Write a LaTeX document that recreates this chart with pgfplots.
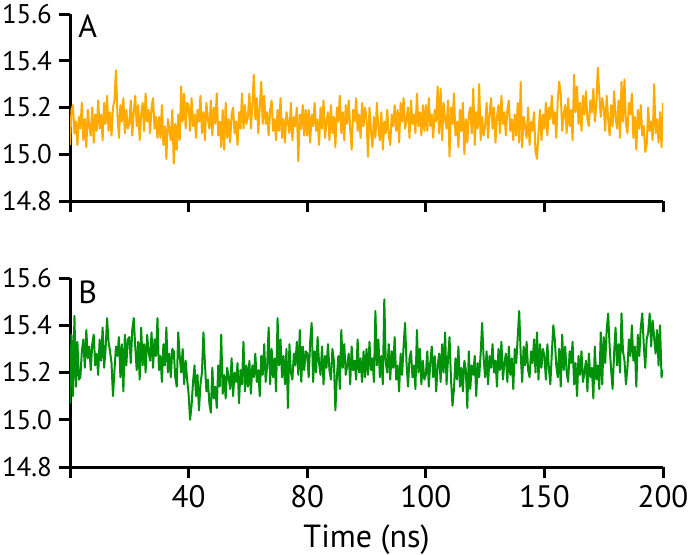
\documentclass[border=0pt]{standalone}
\usepackage{fontspec}
\setmainfont{PT Sans}
\usepackage{pgfplots}
\pgfplotsset{compat=1.18}
\usepackage{pgfplotstable}
\definecolor{mdorange}{RGB}{255,170,0}
\definecolor{mdgreen}{RGB}{0,145,10}

% sampled every 0.5 ns, 0..200 ns
\pgfplotstableread[row sep=\\]{
y\\
15.04\\15.19\\15.21\\15.09\\15.14\\15.04\\15.16\\15.11\\15.22\\15.06\\15.15\\15.03\\15.19\\15.12\\15.08\\15.20\\15.05\\15.17\\15.10\\15.23\\
15.11\\15.17\\15.06\\15.22\\15.13\\15.25\\15.10\\15.18\\15.08\\15.20\\15.23\\15.36\\15.17\\15.07\\15.21\\15.14\\15.24\\15.09\\15.19\\15.11\\
15.13\\15.23\\15.08\\15.18\\15.25\\15.12\\15.21\\15.06\\15.17\\15.22\\15.10\\15.26\\15.14\\15.19\\15.09\\15.20\\15.24\\15.11\\15.16\\15.07\\
15.16\\15.07\\15.21\\15.04\\15.12\\14.98\\15.15\\15.11\\15.06\\15.19\\14.96\\15.13\\15.02\\15.17\\15.06\\15.29\\15.14\\15.26\\15.11\\15.22\\
15.21\\15.10\\15.24\\15.12\\15.17\\15.07\\15.19\\15.14\\15.25\\15.09\\15.18\\15.06\\15.22\\15.15\\15.11\\15.23\\15.08\\15.20\\15.13\\15.26\\
15.08\\15.14\\15.03\\15.19\\15.02\\15.22\\15.07\\15.15\\15.05\\15.17\\15.20\\15.09\\15.14\\15.04\\15.18\\15.11\\15.26\\15.11\\15.21\\15.13\\
15.16\\15.26\\15.11\\15.21\\15.34\\15.15\\15.24\\15.09\\15.20\\15.31\\15.13\\15.25\\15.13\\15.18\\15.08\\15.19\\15.23\\15.10\\15.15\\15.06\\
15.19\\15.10\\15.24\\15.07\\15.15\\15.05\\15.18\\15.14\\15.09\\15.22\\15.06\\15.16\\15.12\\15.20\\14.97\\15.17\\15.11\\15.21\\15.08\\15.19\\
15.08\\15.19\\15.05\\15.17\\15.12\\15.22\\15.10\\15.15\\15.04\\15.20\\15.11\\15.23\\15.07\\15.14\\15.18\\15.06\\15.21\\15.09\\15.16\\15.03\\
15.20\\15.14\\15.25\\15.09\\15.18\\15.06\\15.21\\15.13\\15.23\\15.11\\15.02\\15.19\\15.14\\15.24\\15.10\\15.17\\15.07\\15.22\\15.12\\15.20\\
15.15\\14.99\\15.20\\15.10\\15.03\\15.16\\15.07\\15.22\\15.11\\15.06\\15.18\\15.02\\15.14\\15.09\\15.19\\15.08\\15.04\\15.17\\15.12\\15.21\\
15.10\\15.19\\15.05\\15.22\\15.14\\15.24\\15.11\\15.15\\15.20\\15.07\\15.23\\15.13\\15.17\\15.09\\15.26\\15.12\\15.18\\15.08\\15.21\\15.10\\
15.21\\15.10\\15.24\\15.12\\15.17\\15.07\\15.19\\15.14\\15.29\\15.09\\15.28\\15.06\\15.22\\15.15\\15.11\\15.23\\14.99\\15.20\\15.13\\15.26\\
15.08\\15.14\\15.03\\15.19\\15.10\\15.22\\15.00\\15.15\\15.05\\15.17\\15.20\\15.09\\15.28\\15.04\\15.18\\15.11\\15.30\\15.06\\15.16\\15.08\\
15.12\\15.22\\15.07\\15.17\\15.24\\15.11\\15.20\\15.05\\15.16\\15.21\\15.09\\15.25\\15.13\\15.18\\15.08\\15.19\\15.23\\15.10\\15.15\\15.06\\
15.17\\15.08\\15.22\\15.05\\15.31\\15.03\\15.16\\15.12\\15.07\\15.20\\15.04\\15.14\\15.10\\15.18\\15.01\\14.98\\15.09\\15.19\\15.06\\15.17\\
15.11\\15.22\\15.08\\15.20\\15.15\\15.25\\15.13\\15.18\\15.07\\15.23\\15.31\\15.26\\15.10\\15.17\\15.21\\15.09\\15.24\\15.12\\15.19\\15.06\\
15.34\\15.18\\15.29\\15.13\\15.22\\15.10\\15.25\\15.17\\15.27\\15.15\\15.12\\15.23\\15.18\\15.28\\15.14\\15.21\\15.37\\15.26\\15.16\\15.24\\
15.20\\15.10\\15.25\\15.15\\15.08\\15.21\\15.12\\15.27\\15.16\\15.11\\15.23\\15.07\\15.31\\15.14\\15.32\\15.13\\15.09\\15.22\\15.17\\15.26\\
15.07\\15.16\\15.02\\15.19\\15.11\\15.21\\15.08\\15.12\\15.01\\15.04\\15.20\\15.10\\15.14\\15.06\\15.30\\15.09\\15.15\\15.05\\15.18\\15.03\\
15.22\\
}\dataA

\pgfplotstableread[row sep=\\]{
y\\
15.07\\15.36\\15.10\\15.44\\15.14\\15.33\\15.17\\15.18\\15.29\\15.34\\15.22\\15.38\\15.26\\15.31\\15.21\\15.32\\15.36\\15.23\\15.28\\15.19\\
15.34\\15.25\\15.39\\15.22\\15.30\\15.43\\15.33\\15.29\\15.24\\15.10\\15.21\\15.31\\15.27\\15.35\\15.18\\15.32\\15.12\\15.36\\15.23\\15.34\\
15.35\\15.24\\15.38\\15.43\\15.31\\15.21\\15.33\\15.17\\15.39\\15.23\\15.32\\15.20\\15.36\\15.29\\15.25\\15.37\\15.22\\15.34\\15.27\\15.43\\
15.21\\15.27\\15.16\\15.32\\15.23\\15.39\\15.20\\15.28\\15.18\\15.30\\15.29\\15.18\\15.14\\15.37\\15.27\\15.20\\15.30\\15.15\\15.25\\15.17\\
15.11\\15.00\\15.06\\15.16\\15.23\\15.10\\15.19\\15.04\\15.15\\15.20\\15.37\\15.24\\15.12\\15.17\\15.07\\15.03\\15.22\\15.09\\15.14\\15.05\\
15.23\\15.14\\15.36\\15.11\\15.19\\15.09\\15.22\\15.18\\15.13\\15.26\\15.10\\15.20\\15.16\\15.24\\15.07\\15.21\\15.15\\15.33\\15.12\\15.23\\
15.14\\15.25\\15.11\\15.23\\15.18\\15.28\\15.16\\15.21\\15.10\\15.27\\15.19\\15.32\\15.16\\15.23\\15.39\\15.15\\15.30\\15.18\\15.26\\15.12\\
15.43\\15.23\\15.34\\15.18\\15.27\\15.15\\15.30\\15.05\\15.32\\15.20\\15.17\\15.28\\15.23\\15.33\\15.19\\15.38\\15.16\\15.31\\15.21\\15.29\\
15.28\\15.18\\15.33\\15.41\\15.16\\15.29\\15.20\\15.35\\15.24\\15.19\\15.31\\15.15\\15.27\\15.22\\15.32\\15.21\\15.17\\15.30\\15.25\\15.04\\
15.18\\15.27\\15.13\\15.38\\15.22\\15.32\\15.19\\15.23\\15.28\\15.15\\15.31\\15.21\\15.25\\15.17\\15.34\\15.20\\15.26\\15.16\\15.29\\15.18\\
15.30\\15.19\\15.33\\15.21\\15.26\\15.16\\15.46\\15.23\\15.34\\15.18\\15.27\\15.15\\15.51\\15.24\\15.20\\15.32\\15.17\\15.29\\15.22\\15.35\\
15.17\\15.23\\15.12\\15.28\\15.19\\15.31\\15.41\\15.24\\15.14\\15.26\\15.29\\15.18\\15.23\\15.13\\15.38\\15.20\\15.30\\15.15\\15.25\\15.17\\
15.19\\15.29\\15.14\\15.24\\15.31\\15.18\\15.27\\15.12\\15.23\\15.28\\15.16\\15.32\\15.20\\15.37\\15.15\\15.26\\15.35\\15.17\\15.06\\15.13\\
15.26\\15.17\\15.31\\15.14\\15.22\\15.12\\15.25\\15.21\\15.05\\15.29\\15.13\\15.23\\15.19\\15.27\\15.10\\15.24\\15.18\\15.28\\15.41\\15.26\\
15.18\\15.29\\15.15\\15.27\\15.22\\15.32\\15.20\\15.25\\15.14\\15.30\\15.21\\15.33\\15.17\\15.24\\15.28\\15.16\\15.31\\15.19\\15.26\\15.13\\
15.30\\15.24\\15.35\\15.46\\15.28\\15.16\\15.31\\15.23\\15.33\\15.21\\15.18\\15.29\\15.24\\15.34\\15.20\\15.37\\15.17\\15.32\\15.22\\15.30\\
15.27\\15.17\\15.32\\15.22\\15.15\\15.28\\15.40\\15.34\\15.23\\15.18\\15.30\\15.14\\15.36\\15.21\\15.31\\15.20\\15.16\\15.29\\15.24\\15.33\\
15.15\\15.24\\15.10\\15.27\\15.19\\15.29\\15.16\\15.20\\15.25\\15.12\\15.28\\15.18\\15.22\\15.09\\15.31\\15.17\\15.23\\15.13\\15.37\\15.15\\
15.35\\15.24\\15.38\\15.45\\15.31\\15.21\\15.13\\15.28\\15.39\\15.23\\15.32\\15.20\\15.45\\15.29\\15.25\\15.15\\15.22\\15.34\\15.27\\15.40\\
15.25\\15.31\\15.14\\15.36\\15.27\\15.39\\15.45\\15.32\\15.22\\15.34\\15.37\\15.45\\15.31\\15.42\\15.35\\15.28\\15.38\\15.23\\15.40\\15.18\\
15.21\\
}\dataB

\pgfplotsset{panel/.style={
  scale only axis, width=296.5pt,
  xmin=0, xmax=200, ymin=14.8, ymax=15.6,
  axis lines*=left,
  axis line style={line width=1.5pt},
  tick align=outside,
  major tick length=5.5pt,
  tick style={black, line width=1.5pt},
  xtick={0,40,80,120,160,200},
  ytick={14.8,15.0,15.2,15.4,15.6},
  yticklabels={14.8,15.0,15.2,15.4,15.6},
  yticklabel style={font=\fontsize{13.5}{15}\selectfont},
  xticklabel style={font=\fontsize{15.5}{17}\selectfont},
}}

\begin{document}
\begin{tikzpicture}
\path[use as bounding box] (-35pt,-43.5pt) rectangle (309pt,233.5pt);

\begin{axis}[panel, at={(0pt,133pt)}, anchor=south west, height=93.5pt,
  xticklabels={,,,,,}]
\addplot[mdorange, line width=1pt, line join=round] table[x expr=\coordindex*0.5, y=y] {\dataA};
\node[anchor=base west, inner sep=0pt, font=\fontsize{16}{18}\selectfont,
  xshift=4pt, yshift=-11.5pt] at (rel axis cs:0,1) {A};
\end{axis}

\begin{axis}[panel, at={(0pt,0pt)}, anchor=south west, height=94.5pt,
  xticklabels={,40,80,100,150,200},
  xlabel={Time (ns)},
  xlabel style={at={(axis description cs:0.5,0)}, anchor=base, yshift=-40pt,
    font=\fontsize{16}{18}\selectfont}]
\addplot[mdgreen, line width=1pt, line join=round] table[x expr=\coordindex*0.5, y=y] {\dataB};
\node[anchor=base west, inner sep=0pt, font=\fontsize{16}{18}\selectfont,
  xshift=4pt, yshift=-12.5pt] at (rel axis cs:0,1) {B};
\end{axis}
\end{tikzpicture}
\end{document}
